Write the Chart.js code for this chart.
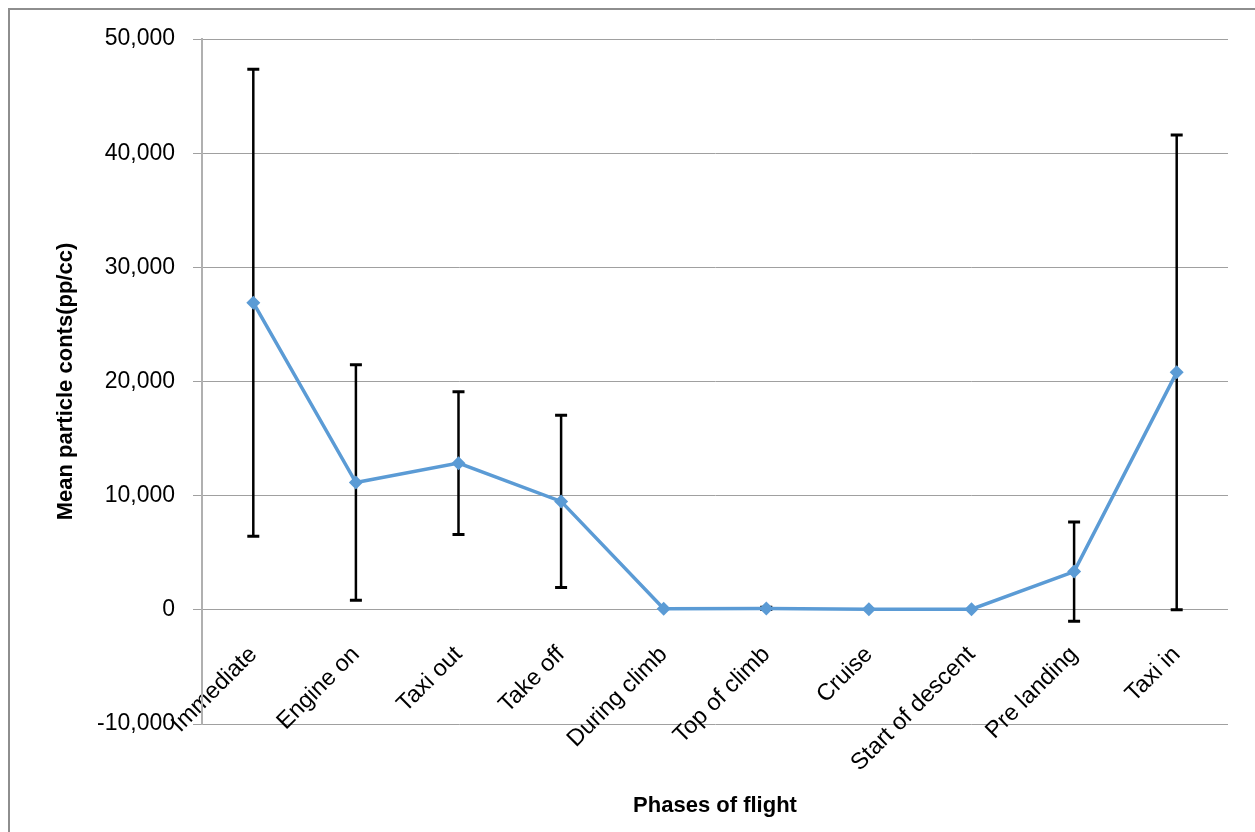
<!DOCTYPE html>
<html>
<head>
<meta charset="utf-8">
<script src="https://cdn.jsdelivr.net/npm/chart.js@4/dist/chart.umd.min.js"></script>
<style>
  html, body { margin: 0; padding: 0; background: #ffffff; overflow: hidden; }
  #wrap { position: relative; width: 1255px; height: 832px; }
  #frame {
    position: absolute; left: 8px; top: 8px; width: 1400px; height: 1000px;
    border: 2px solid #8e8e8e; box-sizing: border-box;
  }
  #chart { position: absolute; left: 0; top: 0; }
</style>
</head>
<body>
<div id="wrap">
  <div id="frame"></div>
  <canvas id="chart" width="1255" height="832"></canvas>
</div>
<script>
// Flight phases and mean particle counts (pp/cc) with ± error
const categories = ['Immediate', 'Engine on', 'Taxi out', 'Take off', 'During climb',
                    'Top of climb', 'Cruise', 'Start of descent', 'Pre landing', 'Taxi in'];
const means  = [26900, 11150, 12850, 9500, 100, 120, 50, 50, 3350, 20800];
const errors = [20450, 10320, 6260, 7550, 0, 100, 0, 0, 4350, 20800];
const yTicks = [-10000, 0, 10000, 20000, 30000, 40000, 50000];

// Vertical error bars with caps, drawn beneath the line
const errorBars = {
  id: 'errorBars',
  beforeDatasetsDraw(chart) {
    const { ctx, scales: { x, y } } = chart;
    ctx.save();
    ctx.strokeStyle = '#000000';
    categories.forEach((c, i) => {
      const e = errors[i];
      if (!e) return;
      const px = x.getPixelForValue(i);
      const top = y.getPixelForValue(means[i] + e);
      const bot = y.getPixelForValue(means[i] - e);
      ctx.lineWidth = 2.5;
      ctx.beginPath();
      ctx.moveTo(px, top);
      ctx.lineTo(px, bot);
      ctx.stroke();
      ctx.lineWidth = 3;
      ctx.beginPath();
      ctx.moveTo(px - 6, top); ctx.lineTo(px + 6, top);
      ctx.moveTo(px - 6, bot); ctx.lineTo(px + 6, bot);
      ctx.stroke();
    });
    ctx.restore();
  }
};

Chart.defaults.font.family = "'Liberation Sans', Arial, sans-serif";
Chart.defaults.color = '#000000';

new Chart(document.getElementById('chart'), {
  type: 'line',
  data: {
    labels: categories,
    datasets: [{
      data: means,
      borderColor: '#5B9BD5',
      backgroundColor: '#5B9BD5',
      borderWidth: 3.5,
      tension: 0,
      pointStyle: 'rectRot',
      pointRadius: 7,
      pointBorderWidth: 0,
      pointHoverRadius: 7
    }]
  },
  options: {
    responsive: false,
    devicePixelRatio: 1,
    animation: false,
    layout: { padding: { left: 49, right: 27, top: 39, bottom: 0 } },
    plugins: {
      legend: { display: false },
      tooltip: { enabled: false },
      // horizontal axis title, centred under the plot area
      title: {
        display: true,
        position: 'bottom',
        fullSize: false,
        text: 'Phases of flight',
        font: { size: 22, weight: 'bold' },
        color: '#000000',
        padding: { top: 68.8, bottom: 12.8 }
      }
    },
    scales: {
      x: {
        type: 'category',
        position: { y: 0 },
        offset: true,
        grid: { display: false, drawTicks: false },
        border: { display: false },
        ticks: {
          autoSkip: false,
          minRotation: 45,
          maxRotation: 45,
          padding: 31,
          font: { size: 23.5 },
          color: '#000000'
        },
        afterFit(scale) { scale.height = 0; }
      },
      y: {
        min: yTicks[0],
        max: yTicks[yTicks.length - 1],
        afterBuildTicks(scale) { scale.ticks = yTicks.map(v => ({ value: v })); },
        grid: { color: '#a0a0a0', lineWidth: 1, drawTicks: true, tickLength: 9 },
        border: { display: true, color: '#b0b0b0', width: 2 },
        ticks: {
          padding: 18,
          font: { size: 23 },
          color: '#000000',
          callback: v => v.toLocaleString('en-US')
        },
        title: {
          display: true,
          text: 'Mean particle conts(pp/cc)',
          font: { size: 22, weight: 'bold' },
          color: '#000000',
          padding: { top: 4, bottom: 4 }
        },
        afterFit(scale) { scale.width = 153; }
      }
    }
  },
  plugins: [errorBars]
});
</script>
</body>
</html>
